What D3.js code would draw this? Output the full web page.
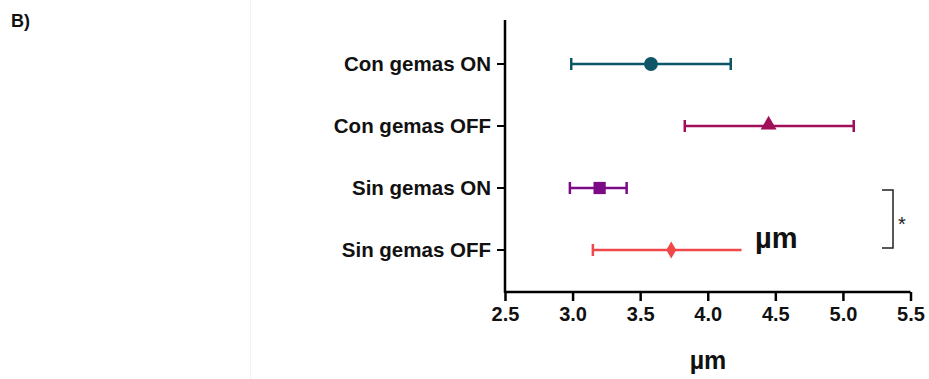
<!DOCTYPE html>
<html><head><meta charset="utf-8">
<script src="https://cdn.jsdelivr.net/npm/d3@7"></script>
<style>
html,body{margin:0;padding:0;background:#fff;}
svg{display:block;}
text{font-family:"Liberation Sans",Arial,sans-serif;}
</style></head>
<body>
<svg id="chart" width="929" height="379"></svg>
<script>
const categories = ["Con gemas ON", "Con gemas OFF", "Sin gemas ON", "Sin gemas OFF"];
const means = [3.58, 4.45, 3.20, 3.73];
const lows = [2.99, 3.83, 2.98, 3.15];
const highs = [4.17, 5.08, 3.40, 4.25];
const markers = ["circle", "triangle", "square", "diamond"];
const colors = ["#0f5568", "#a10f5a", "#7b0a86", "#f0484a"];
const xTicks = [2.5, 3.0, 3.5, 4.0, 4.5, 5.0, 5.5];
const xTitle = "\u00B5m";

const svg = d3.select("#chart");
const W = 929, H = 379;

// faint panel separator
svg.append("line").attr("x1",250.5).attr("x2",250.5).attr("y1",0).attr("y2",H)
  .attr("stroke","#f3f3f3").attr("stroke-width",1);

svg.append("text").attr("x",11).attr("y",27).text("B)")
  .attr("font-weight","bold").attr("font-size",18).attr("fill","#111");

const x = d3.scaleLinear().domain([2.5,5.5]).range([505,910.5]);
const y = d3.scalePoint().domain(categories).range([64,250]);

// y axis
const yAxis = svg.append("g").attr("transform","translate(505,0)");
yAxis.append("line").attr("x1",0).attr("x2",0).attr("y1",20).attr("y2",293)
  .attr("stroke","#000").attr("stroke-width",2.5);
yAxis.selectAll("line.t").data(categories).enter().append("line").attr("class","t")
  .attr("x1",-8).attr("x2",0).attr("y1",d=>y(d)).attr("y2",d=>y(d))
  .attr("stroke","#000").attr("stroke-width",2);
yAxis.selectAll("text").data(categories).enter().append("text")
  .attr("x",-14).attr("y",d=>y(d)).attr("dy","0.36em").attr("text-anchor","end")
  .attr("font-weight","bold").attr("font-size",20.5).attr("fill","#111").text(d=>d);

// x axis
const xg = svg.append("g").attr("transform","translate(0,292)")
  .call(d3.axisBottom(x).tickValues(xTicks).tickFormat(d3.format(".1f")).tickSize(9).tickPadding(6));
xg.select(".domain").attr("stroke","#000").attr("stroke-width",2.5)
  .attr("d",`M${x(2.5)},0H${x(5.5)}`);
xg.selectAll(".tick line").attr("stroke","#000").attr("stroke-width",2.5);
xg.selectAll(".tick text").attr("font-weight","bold").attr("font-size",20)
  .attr("fill","#111").attr("font-family","'Liberation Sans',Arial,sans-serif");

svg.append("text").attr("x",708).attr("y",369).attr("text-anchor","middle")
  .attr("font-weight","bold").attr("font-size",25).attr("fill","#111").text(xTitle);

// error bars and markers
const g = svg.append("g");
categories.forEach((c,i)=>{
  const yy = y(c), col = colors[i];
  g.append("line").attr("x1",x(lows[i])).attr("x2",x(highs[i])).attr("y1",yy).attr("y2",yy)
    .attr("stroke",col).attr("stroke-width",2.5);
  g.append("line").attr("x1",x(lows[i])).attr("x2",x(lows[i])).attr("y1",yy-6).attr("y2",yy+6)
    .attr("stroke",col).attr("stroke-width",2.5);
  if (i < 3) {
    g.append("line").attr("x1",x(highs[i])).attr("x2",x(highs[i])).attr("y1",yy-6).attr("y2",yy+6)
      .attr("stroke",col).attr("stroke-width",2.5);
  }
  const symType = {circle:d3.symbolCircle, triangle:d3.symbolTriangle, square:d3.symbolSquare, diamond:d3.symbolDiamond}[markers[i]];
  const size = {circle:150, triangle:110, square:150, diamond:85}[markers[i]];
  g.append("path").attr("d",d3.symbol().type(symType).size(size)())
    .attr("transform",`translate(${x(means[i])},${yy + (markers[i]==="triangle"? -1:0)})`)
    .attr("fill",col);
});

// in-plot unit label
svg.append("text").attr("x",755).attr("y",248).attr("font-family","'Open Sans',Lato,sans-serif")
  .attr("font-weight","bold").attr("font-size",29).attr("fill","#111").text(xTitle);

// significance bracket
const y1 = y("Sin gemas ON"), y2 = y("Sin gemas OFF");
svg.append("path").attr("d",`M882,${y1+2}H893V${y2-2}H882`).attr("fill","none")
  .attr("stroke","#222").attr("stroke-width",1.5);
svg.append("text").attr("x",898).attr("y",(y1+y2)/2+12).attr("font-size",20).attr("fill","#222").text("*");
</script>
</body></html>
